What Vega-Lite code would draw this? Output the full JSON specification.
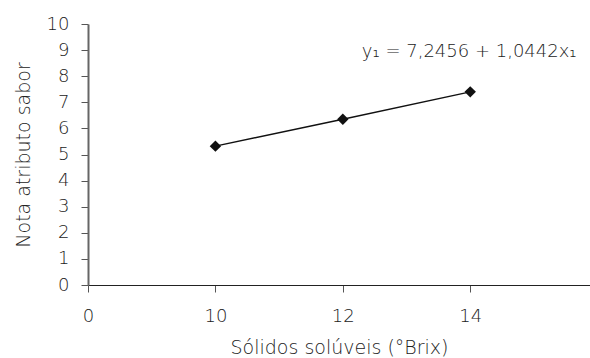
{
  "$schema": "https://vega.github.io/schema/vega-lite/v6.json",
  "width": 502,
  "height": 261,
  "autosize": "none",
  "padding": {"left": 88, "top": 24, "right": 0, "bottom": 73},
  "background": "white",
  "config": {
    "view": {"stroke": null},
    "font": "DejaVu Sans",
    "axis": {
      "grid": false,
      "labelFont": "DejaVu Sans",
      "titleFont": "DejaVu Sans",
      "labelFontSize": 18,
      "titleFontSize": 19,
      "labelFontWeight": 200,
      "titleFontWeight": 200,
      "labelColor": "#222",
      "titleColor": "#222",
      "labelOverlap": false,
      "tickColor": "#555",
      "domainColor": "#555"
    }
  },
  "datasets": {
    "pts": [
      {"brix": 10, "nota": 5.32},
      {"brix": 12, "nota": 6.35},
      {"brix": 14, "nota": 7.40}
    ],
    "eq": [
      {"brix": 12, "nota": 8.93, "label": "y₁ = 7,2456 + 1,0442x₁"}
    ]
  },
  "encoding": {
    "x": {
      "field": "brix",
      "type": "ordinal",
      "scale": {"type": "point", "domain": [0, 10, 12, 14], "padding": 0.47, "align": 0},
      "axis": {
        "title": "Sólidos solúveis (°Brix)",
        "labelAngle": 0,
        "tickSize": 7,
        "labelPadding": 15,
        "titlePadding": 13,
        "domainColor": "#222",
        "domainWidth": 1.2
      }
    },
    "y": {
      "field": "nota",
      "type": "quantitative",
      "scale": {"domain": [0, 10], "nice": false},
      "axis": {
        "title": "Nota atributo sabor",
        "values": [0, 1, 2, 3, 4, 5, 6, 7, 8, 9, 10],
        "labelOverlap": false,
        "tickSize": 7,
        "labelPadding": 12,
        "titlePadding": 13,
        "domainWidth": 2,
        "domainColor": "#666"
      }
    }
  },
  "layer": [
    {
      "data": {"name": "pts"},
      "mark": {"type": "line", "color": "#111", "strokeWidth": 1.4}
    },
    {
      "data": {"name": "pts"},
      "mark": {"type": "point", "shape": "diamond", "filled": true, "color": "#111", "size": 130, "opacity": 1}
    },
    {
      "data": {"name": "eq"},
      "mark": {"type": "text", "align": "left", "baseline": "middle", "dx": 19, "fontSize": 18, "fontWeight": 200, "color": "#222", "font": "DejaVu Sans"},
      "encoding": {
        "text": {"field": "label"}
      }
    }
  ]
}
